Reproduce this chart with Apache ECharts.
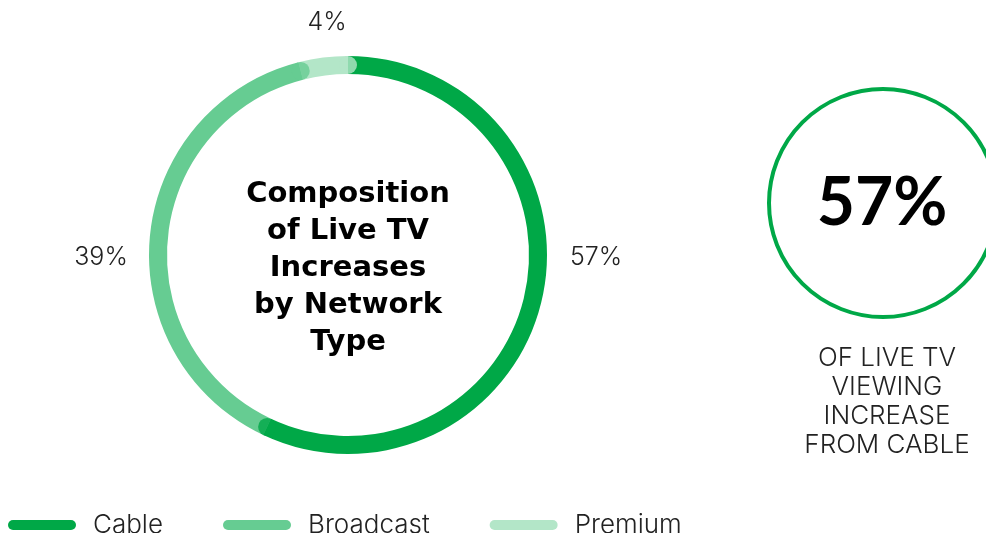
<!DOCTYPE html>
<html>
<head>
<meta charset="utf-8">
<script src="https://cdn.jsdelivr.net/npm/echarts@6/dist/echarts.min.js"></script>
<style>
  html, body { margin: 0; padding: 0; background: #fff; }
  #chart { width: 986px; height: 533px; }
</style>
</head>
<body>
<div id="chart"></div>
<script>
const categories = ['Cable', 'Broadcast', 'Premium']
const shares = [57, 39, 4]
const colors = ['#00a847', '#66cc92', '#b3e6c8']
const centerTitle = ['Composition', 'of Live TV', 'Increases', 'by Network', 'Type']
const calloutLines = ['OF LIVE TV', 'VIEWING', 'INCREASE', 'FROM CABLE']

const labelPos = [[596, 257], [101, 257], [327, 22]] // where the % labels sit
const ringCenter = [348, 255]
const outerR = 199
const innerR = 181
const lightFont = 'Inter'

// round caps at the end of each segment
let acc = 0
const caps = shares.map((v, i) => {
  acc += v
  return { value: [(outerR + innerR) / 2, acc], itemStyle: { color: colors[i] } }
})

const chart = echarts.init(document.getElementById('chart'))

chart.setOption({
  animation: false,
  legend: {
    data: categories,
    left: 3,
    top: 507,
    itemWidth: 68,
    itemHeight: 10,
    itemGap: 60,
    icon: 'path://M5,0 H63 A5,5 0 0 1 63,10 H5 A5,5 0 0 1 5,0 Z',
    textStyle: {
      fontFamily: lightFont,
      fontWeight: 300,
      fontSize: 26,
      color: '#222',
      padding: [0, 0, 0, 12]
    }
  },
  polar: { center: ringCenter, radius: outerR },
  angleAxis: {
    type: 'value', min: 0, max: 100, startAngle: 90, clockwise: true,
    show: false
  },
  radiusAxis: { type: 'value', min: 0, max: outerR, show: false },
  series: [
    {
      type: 'pie',
      center: ringCenter,
      radius: [innerR, outerR],
      startAngle: 90,
      clockwise: true,
      silent: true,
      data: categories.map((c, i) => ({
        name: c,
        value: shares[i],
        itemStyle: { color: colors[i] }
      })),
      label: {
        show: true,
        formatter: '{c}%',
        fontFamily: lightFont,
        fontWeight: 300,
        fontSize: 25,
        color: '#222'
      },
      labelLine: { show: false },
      labelLayout: function (p) {
        const pos = labelPos[p.dataIndex]
        return { x: pos[0], y: pos[1], align: 'center', verticalAlign: 'middle' }
      }
    },
    {
      type: 'scatter',
      coordinateSystem: 'polar',
      symbol: 'circle',
      symbolSize: outerR - innerR,
      silent: true,
      z: 3,
      data: caps
    }
  ],
  graphic: [
    {
      type: 'text',
      x: ringCenter[0],
      y: 268,
      style: {
        text: centerTitle.join('\n'),
        align: 'center',
        verticalAlign: 'middle',
        fontFamily: 'DejaVu Sans',
        fontWeight: 'bold',
        fontSize: 29,
        lineHeight: 37,
        fill: '#000'
      }
    },
    {
      type: 'circle',
      shape: { cx: 883, cy: 203, r: 114 },
      style: { fill: 'none', stroke: colors[0], lineWidth: 4 }
    },
    {
      type: 'text',
      x: 882,
      y: 204,
      style: {
        text: shares[0] + '%',
        align: 'center',
        verticalAlign: 'middle',
        fontFamily: 'Lato',
        fontWeight: 'bold',
        fontSize: 66,
        fill: '#000'
      }
    },
    {
      type: 'text',
      x: 887,
      y: 402,
      style: {
        text: calloutLines.join('\n'),
        align: 'center',
        verticalAlign: 'middle',
        fontFamily: lightFont,
        fontWeight: 300,
        fontSize: 26,
        lineHeight: 29,
        fill: '#222'
      }
    }
  ]
})
</script>
</body>
</html>
